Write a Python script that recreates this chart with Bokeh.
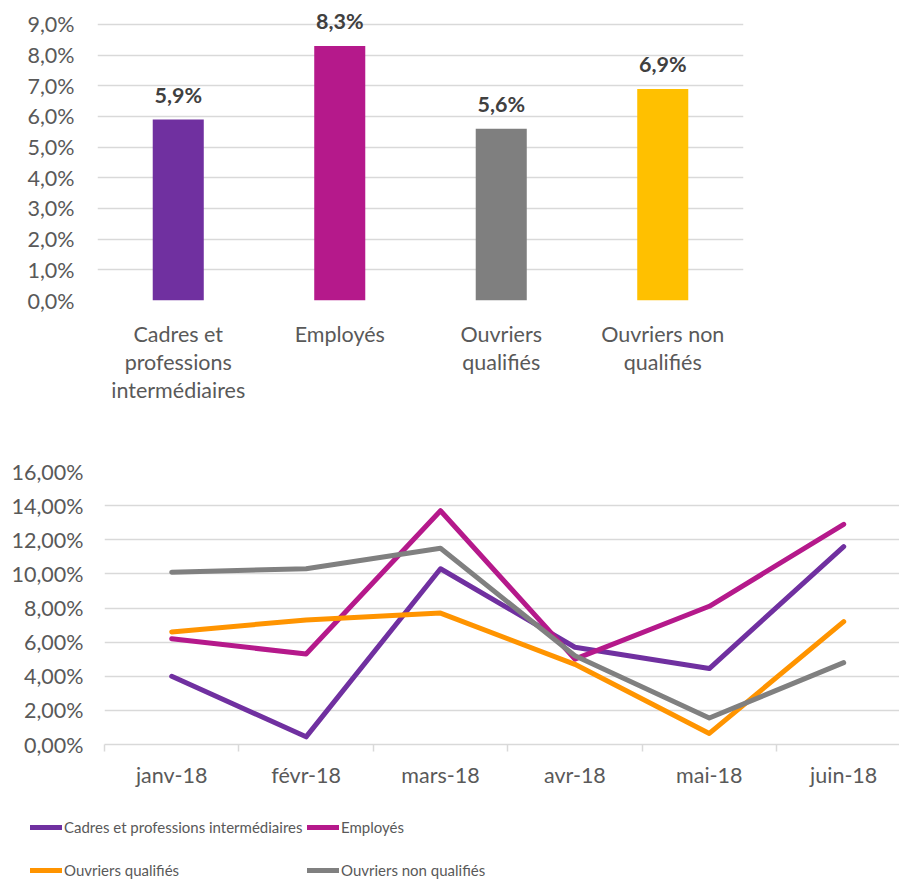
from bokeh.plotting import figure
from bokeh.models import FactorRange, Range1d, FixedTicker, Legend, LegendItem, ColumnDataSource
from bokeh.embed import file_html
from bokeh.resources import INLINE
from bokeh.core.properties import value

# ---------------- data ----------------
categories = ["Cadres et\nprofessions\nintermédiaires", "Employés", "Ouvriers\nqualifiés", "Ouvriers non\nqualifiés"]
bar_values = [5.9, 8.3, 5.6, 6.9]
bar_colors = ["#7030A0", "#B5198B", "#7F7F7F", "#FFC000"]
bar_ticks = [0, 1, 2, 3, 4, 5, 6, 7, 8, 9]
bar_tick_labels = ["0,0%", "1,0%", "2,0%", "3,0%", "4,0%", "5,0%", "6,0%", "7,0%", "8,0%", "9,0%"]

months = ["janv-18", "févr-18", "mars-18", "avr-18", "mai-18", "juin-18"]
cadres = [4.0, 0.45, 10.3, 5.7, 4.45, 11.6]
employes = [6.2, 5.3, 13.7, 5.0, 8.1, 12.9]
ouvriers_q = [6.6, 7.3, 7.7, 4.7, 0.65, 7.2]
ouvriers_nq = [10.1, 10.3, 11.5, 5.2, 1.55, 4.8]
series_names = ["Cadres et professions intermédiaires", "Employés", "Ouvriers qualifiés", "Ouvriers non qualifiés"]
series_colors = ["#7030A0", "#B5198B", "#FF9400", "#808080"]
line_ticks = [0, 2, 4, 6, 8, 10, 12, 14, 16]
line_tick_labels = ["0,00%", "2,00%", "4,00%", "6,00%", "8,00%", "10,00%", "12,00%", "14,00%", "16,00%"]

FONT = "Lato"
FS = "21.5px"
TXT = "#595959"
GRID = "#d9d9d9"
W = 899

# ---------------- bar chart ----------------
p1 = figure(x_range=FactorRange(factors=categories), y_range=Range1d(0, 292 / 30.67),
            width=W, height=430, output_backend="svg", toolbar_location=None,
            min_border_left=97, min_border_right=156, min_border_top=8, min_border_bottom=130)
p1.outline_line_color = None

src = ColumnDataSource(dict(cat=categories, val=bar_values, color=bar_colors,
                            lab=[f"{v:.1f}%".replace(".", ",") for v in bar_values]))
p1.vbar(x="cat", top="val", width=0.316, color="color", source=src, line_color=None)
p1.text(x="cat", y="val", text="lab", source=src, y_offset=-25,
        text_align="center", text_baseline="middle",
        text_font=value(FONT), text_font_style="bold", text_font_size=FS, text_color="#404040")

p1.xgrid.grid_line_color = None
p1.ygrid.grid_line_color = GRID
p1.ygrid.grid_line_width = 1.5
p1.yaxis.ticker = FixedTicker(ticks=bar_ticks)
p1.yaxis.major_label_overrides = {t: l for t, l in zip(bar_ticks, bar_tick_labels)}
for ax in (p1.xaxis, p1.yaxis):
    ax.axis_line_color = None
    ax.major_tick_line_color = None
    ax.minor_tick_line_color = None
    ax.major_label_text_font = FONT
    ax.major_label_text_font_size = FS
    ax.major_label_text_color = TXT
p1.yaxis.major_label_standoff = 17
p1.xaxis.major_label_standoff = 14
p1.xaxis.major_label_text_line_height = 1.09

# ---------------- line chart ----------------
band = 134.4
left2 = 104
p2 = figure(x_range=Range1d(0, (W - left2) / band), y_range=Range1d(0, 16),
            width=W, height=370, output_backend="svg", toolbar_location=None,
            min_border_left=left2, min_border_right=0, min_border_top=41, min_border_bottom=56)
p2.outline_line_color = None

xs = [i + 0.5 for i in range(len(months))]
line_style = dict(line_width=5, line_cap="round", line_join="round")
for name, vals, col in zip(series_names, [cadres, employes, ouvriers_q, ouvriers_nq], series_colors):
    p2.line(xs, vals, line_color=col, **line_style)

p2.xgrid.grid_line_color = None
p2.ygrid.grid_line_color = GRID
p2.ygrid.grid_line_width = 1.5
p2.yaxis.ticker = FixedTicker(ticks=line_ticks)
p2.yaxis.major_label_overrides = {t: l for t, l in zip(line_ticks, line_tick_labels)}
p2.xaxis.ticker = FixedTicker(ticks=xs, minor_ticks=list(range(len(months) + 1)))
p2.xaxis.major_label_overrides = {x: m for x, m in zip(xs, months)}
for ax in (p2.xaxis, p2.yaxis):
    ax.major_tick_line_color = None
    ax.major_label_text_font = FONT
    ax.major_label_text_font_size = FS
    ax.major_label_text_color = TXT
p2.yaxis.axis_line_color = None
p2.yaxis.minor_tick_line_color = None
p2.yaxis.major_label_standoff = 15
p2.xaxis.axis_line_color = GRID
p2.xaxis.axis_line_width = 1.5
p2.xaxis.minor_tick_line_color = GRID
p2.xaxis.minor_tick_line_width = 1.5
p2.xaxis.minor_tick_out = 7
p2.xaxis.minor_tick_in = 0
p2.xaxis.major_tick_out = 0
p2.xaxis.major_tick_in = 0
p2.xaxis.major_label_standoff = 10

# ---------------- legend ----------------
p3 = figure(x_range=Range1d(0, 1), y_range=Range1d(0, 1), width=W, height=83,
            output_backend="svg", toolbar_location=None,
            min_border_left=0, min_border_right=0, min_border_top=0, min_border_bottom=0)
p3.outline_line_color = None
p3.axis.visible = False
p3.grid.visible = False
nan = float("nan")
leg_items = []
for name, col in zip(series_names, series_colors):
    r = p3.line([nan], [nan], line_color=col, **line_style)
    leg_items.append(LegendItem(label=name, renderers=[r]))

leg_style = dict(glyph_width=32, glyph_height=20, label_height=20, label_standoff=2,
                 spacing=23, padding=0, margin=0, border_line_color=None,
                 background_fill_alpha=0, label_text_font=FONT,
                 label_text_font_size="15px", label_text_color=TXT)
legA = Legend(items=[leg_items[0], leg_items[2]], location=(30, 3), **leg_style)
legB = Legend(items=[leg_items[1], leg_items[3]], location=(307, 3), **leg_style)
p3.add_layout(legA)
p3.add_layout(legB)

open("out.html", "w").write(file_html([p1, p2, p3], INLINE))
